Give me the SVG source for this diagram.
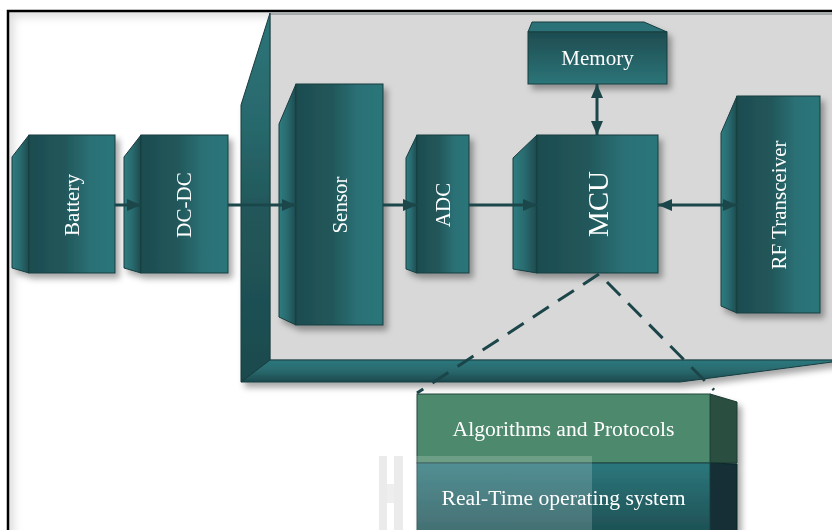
<svg xmlns="http://www.w3.org/2000/svg" width="832" height="530" viewBox="0 0 832 530">
  <defs>
    <style>
      .lbl { font-family: "Liberation Serif", "Times New Roman", serif; fill: #ffffff; font-size: 21px; text-anchor: middle; }
      .wide { font-size: 21.6px; }
      .front { fill: url(#frontH); stroke: #173c3f; stroke-width: 1; }
      .side { fill: url(#sideH); stroke: #173c3f; stroke-width: 1; }
      .wire { stroke: #1b474a; stroke-width: 3; fill: none; }
      .dash { stroke: #1b4549; stroke-width: 3; fill: none; stroke-dasharray: 19 11; }
    </style>
    <linearGradient id="frontH" x1="0" y1="0" x2="1" y2="0">
      <stop offset="0" stop-color="#1e4c50"/>
      <stop offset="0.4" stop-color="#215659"/>
      <stop offset="0.72" stop-color="#2b7176"/>
      <stop offset="1" stop-color="#2c7579"/>
    </linearGradient>
    <linearGradient id="sideH" x1="0" y1="0" x2="1" y2="0">
      <stop offset="0" stop-color="#2f7c81"/>
      <stop offset="0.5" stop-color="#286a6e"/>
      <stop offset="1" stop-color="#1d4a4e"/>
    </linearGradient>
    <linearGradient id="memV" x1="0" y1="0" x2="0" y2="1">
      <stop offset="0" stop-color="#1e4c50"/>
      <stop offset="1" stop-color="#2c7579"/>
    </linearGradient>
    <linearGradient id="wallL" gradientUnits="userSpaceOnUse" x1="0" y1="13" x2="0" y2="382">
      <stop offset="0" stop-color="#2c7479"/>
      <stop offset="0.3" stop-color="#28696d"/>
      <stop offset="0.55" stop-color="#215659"/>
      <stop offset="1" stop-color="#1d4a4e"/>
    </linearGradient>
    <linearGradient id="wallB" x1="0" y1="0" x2="0" y2="1">
      <stop offset="0" stop-color="#2d787d"/>
      <stop offset="0.5" stop-color="#28696d"/>
      <stop offset="1" stop-color="#1d494d"/>
    </linearGradient>
    <linearGradient id="rtosV" x1="0" y1="0" x2="0" y2="1">
      <stop offset="0" stop-color="#2c777c"/>
      <stop offset="1" stop-color="#1d4f53"/>
    </linearGradient>
    <filter id="shadow" x="-20%" y="-20%" width="150%" height="150%">
      <feDropShadow dx="4" dy="5" stdDeviation="3" flood-color="#000" flood-opacity="0.35"/>
    </filter>
    <filter id="soft" x="-10%" y="-10%" width="120%" height="120%">
      <feGaussianBlur stdDeviation="4"/>
    </filter>
    <clipPath id="inside">
      <rect x="9" y="12" width="823" height="518"/>
    </clipPath>
    <marker id="head" markerUnits="userSpaceOnUse" markerWidth="15" markerHeight="13" refX="14" refY="6" orient="auto-start-reverse">
      <path d="M0,0 L14,6 L0,12 z" fill="#1b474a"/>
    </marker>
  </defs>

  <rect width="832" height="530" fill="#ffffff"/>

  <!-- outer frame with faint inner shading -->
  <path d="M8,545 L8,11 L845,11" stroke="#000" stroke-opacity="0.13" stroke-width="12" fill="none" filter="url(#soft)" clip-path="url(#inside)"/>
  <path d="M8,530 L8,11 L832,11" stroke="#000" stroke-width="2.5" fill="none"/>

  <!-- tray holding the sensor node parts -->
  <g id="tray" filter="url(#shadow)">
    <rect x="270" y="14" width="570" height="346" fill="#d8d8d8" stroke="#6e7a7b" stroke-width="1"/>
    <polygon points="270,13 270,360 241,382 241,105" fill="url(#wallL)" stroke="#173c3f" stroke-width="1"/>
    <polygon points="270,360 840,360 840,361 680,382 241,382" fill="url(#wallB)" stroke="#173c3f" stroke-width="1"/>
  </g>

  <g id="battery" filter="url(#shadow)">
    <polygon class="side" points="12,157 29,135 29,273 12,268"/>
    <rect class="front" x="29" y="135" width="86" height="138"/>
    <text class="lbl" transform="translate(72,205) rotate(-90)" y="7">Battery</text>
  </g>

  <g id="dcdc" filter="url(#shadow)">
    <polygon class="side" points="124,157 141,135 141,273 124,268"/>
    <rect class="front" x="141" y="135" width="87" height="138"/>
    <text class="lbl" transform="translate(184,205) rotate(-90)" y="7">DC-DC</text>
  </g>

  <g id="sensor" filter="url(#shadow)">
    <polygon class="side" points="279,124 296,84 296,325 279,317"/>
    <rect class="front" x="296" y="84" width="87" height="241"/>
    <text class="lbl" transform="translate(339.5,205) rotate(-90)" y="7">Sensor</text>
  </g>

  <g id="adc" filter="url(#shadow)">
    <polygon class="side" points="406,158 417,135 417,273 406,269"/>
    <rect class="front" x="417" y="135" width="52" height="138"/>
    <text class="lbl" transform="translate(443,205) rotate(-90)" y="7">ADC</text>
  </g>

  <g id="mcu" filter="url(#shadow)">
    <polygon class="side" points="513,158 537,135 537,273 513,269"/>
    <rect class="front" x="537" y="135" width="121" height="138"/>
    <text class="lbl" style="font-size:29px" transform="translate(597.5,204) rotate(-90)" y="10">MCU</text>
  </g>

  <g id="memory" filter="url(#shadow)">
    <polygon points="528,32 532,22 644,22 667,32" fill="#2b7277" stroke="#173c3f" stroke-width="1"/>
    <rect x="528" y="32" width="139" height="52" fill="url(#memV)" stroke="#173c3f" stroke-width="1"/>
    <text class="lbl" x="597.5" y="65">Memory</text>
  </g>

  <g id="rf" filter="url(#shadow)">
    <polygon class="side" points="721,133 737,96 737,313 721,306"/>
    <rect class="front" x="737" y="96" width="83" height="217"/>
    <text class="lbl" transform="translate(779,205) rotate(-90)" y="7">RF Transceiver</text>
  </g>

  <!-- software stack running on the MCU -->
  <g id="stack" filter="url(#shadow)">
    <polygon points="710,394 737,402 737,463 710,463" fill="#2c4f3f" stroke="#1a3a33" stroke-width="1"/>
    <polygon points="710,463 737,464 737,535 710,535" fill="#122f34" stroke="#0f272b" stroke-width="1"/>
    <rect x="417" y="394" width="293" height="69" fill="#4e896c" stroke="#24463d" stroke-width="1"/>
    <rect x="417" y="463" width="293" height="72" fill="url(#rtosV)" stroke="#1a4044" stroke-width="1"/>
    <text class="lbl wide" x="563.5" y="436">Algorithms and Protocols</text>
    <text class="lbl wide" x="563.5" y="505">Real-Time operating system</text>
  </g>

  <!-- faint overlay mark near the stack -->
  <g id="mark">
    <rect x="415" y="456" width="177" height="74" fill="#ffffff" fill-opacity="0.18"/>
    <rect x="379" y="456" width="8" height="74" fill="#ebebeb"/>
    <rect x="394" y="456" width="9" height="74" fill="#ebebeb"/>
    <rect x="387" y="484" width="7" height="19" fill="#eeeeee"/>
  </g>

  <!-- connectors -->
  <g id="connectors">
    <line class="wire" x1="115" y1="205" x2="141" y2="205" marker-end="url(#head)"/>
    <line class="wire" x1="228" y1="205" x2="296" y2="205" marker-end="url(#head)"/>
    <line class="wire" x1="383" y1="205" x2="417" y2="205" marker-end="url(#head)"/>
    <line class="wire" x1="469" y1="205" x2="537" y2="205" marker-end="url(#head)"/>
    <line class="wire" x1="658" y1="205" x2="737" y2="205" marker-start="url(#head)" marker-end="url(#head)"/>
    <line class="wire" x1="597" y1="84" x2="597" y2="135" marker-start="url(#head)" marker-end="url(#head)"/>
    <line class="dash" x1="599" y1="274" x2="417" y2="393"/>
    <line class="dash" x1="607" y1="282" x2="714" y2="390"/>
  </g>
</svg>
